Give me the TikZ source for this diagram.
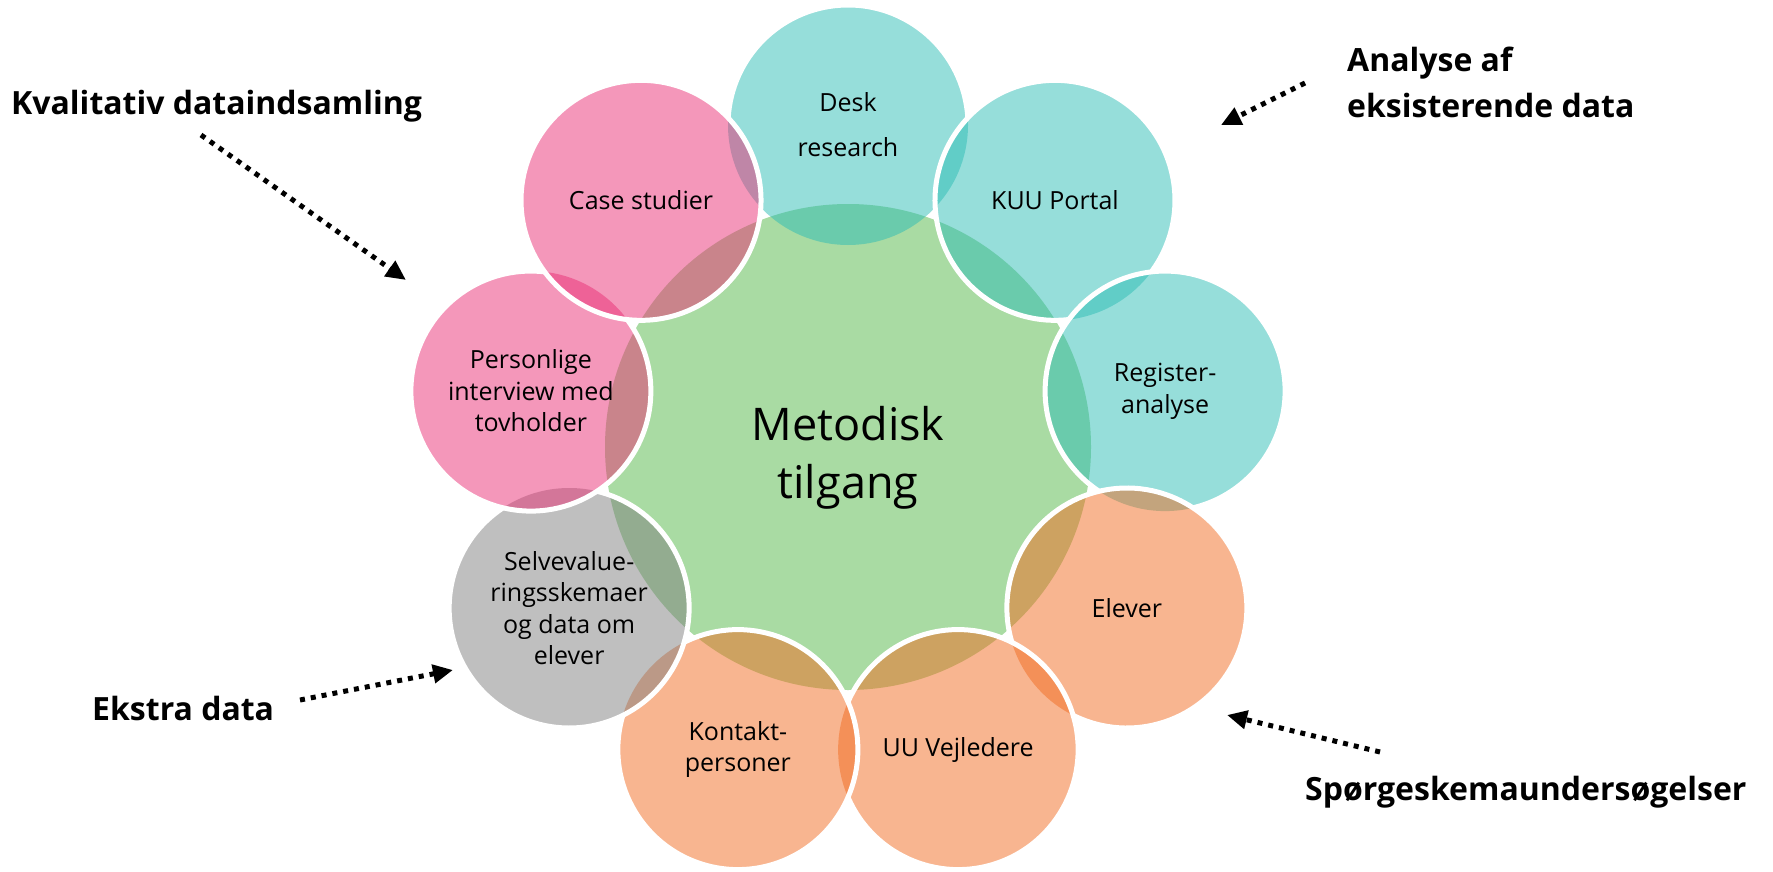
\documentclass[tikz,border=0pt]{standalone}
\usepackage{fontspec}
\setmainfont{Open Sans}
\usetikzlibrary{arrows.meta}
\definecolor{cgreen}{RGB}{169,219,163}
\definecolor{cteal}{RGB}{45,189,181}
\definecolor{cpink}{RGB}{233,47,117}
\definecolor{corange}{RGB}{241,107,33}
\definecolor{cgrey}{RGB}{127,127,127}
\begin{document}
\begin{tikzpicture}[x=1pt,y=1pt,
  bubble/.style={circle, minimum size=240pt, inner sep=0pt, fill opacity=0.5, text opacity=1, align=center, font=\fontsize{25}{31.5}\selectfont},
  rim/.style={white, line width=5pt},
  lbl/.style={anchor=base west, inner sep=0pt, align=left, font=\fontsize{32}{46}\selectfont\bfseries},
  pointer/.style={line width=5pt, dash pattern=on 5pt off 6pt, -{Triangle[length=20pt,width=18pt]}}
]
\useasboundingbox (0,0) rectangle (1773,-872);
% centre
\node[circle, minimum size=486pt, inner sep=0pt, fill=cgreen] (m) at (848,-447) {};
\node[align=center, inner sep=0pt, font=\fontsize{45}{58}\selectfont] (mtxt) at (848,-458) {Metodisk\\tilgang};
% outer circles (clockwise drawing order)
\node[bubble, fill=cteal] (desk) at ([shift={(90:322pt)}]m.center) {Desk\\[13.5pt]research};
\node[bubble, fill=cteal] (kuu) at ([shift={(50:322pt)}]m.center) {KUU Portal};
\node[bubble, fill=cteal] (reg) at ([shift={(10:322pt)}]m.center) {Register-\\analyse};
\node[bubble, fill=corange] (elev) at ([shift={(-30:322pt)}]m.center) {Elever};
\node[bubble, fill=corange] (uu) at ([shift={(-70:322pt)}]m.center) {UU Vejledere};
\node[bubble, fill=corange] (kont) at ([shift={(-110:322pt)}]m.center) {Kontakt-\\personer};
\node[bubble, fill=cgrey] (selv) at ([shift={(-150:322pt)}]m.center) {Selvevalue-\\ringsskemaer\\og data om\\elever};
\node[bubble, fill=cpink] (pers) at ([shift={(170:322pt)}]m.center) {Personlige\\interview med\\tovholder};
\node[bubble, fill=cpink] (case) at ([shift={(130:322pt)}]m.center) {Case studier};
% white rims, hidden where the next circle lies on top
\draw[rim] ([shift={(3.4:120pt)}]desk.center) arc[start angle=3.4, end angle=176.6, radius=120pt];
\foreach \n/\a in {kuu/50, reg/10, elev/-30, uu/-70, kont/-110, selv/-150, pers/170}
  \draw[rim] ([shift={(\a-86.6:120pt)}]\n.center) arc[start angle=\a-86.6, end angle=\a+226.6, radius=120pt];
\draw[rim] (case.center) circle[radius=120pt];
% labels
\node[lbl] (kval) at (11,-115) {Kvalitativ dataindsamling};
\node[lbl] (anal) at (1347,-118) {Analyse af\\eksisterende data};
\node[lbl] (ekst) at (92,-720) {Ekstra data};
\node[lbl] (sporg) at (1305,-800) {Spørgeskemaundersøgelser};
% pointers
\coordinate (k1) at (201,-135); \coordinate (k2) at (406,-280);
\coordinate (a1) at (1305,-83); \coordinate (a2) at (1221,-125);
\coordinate (e1) at (300,-700); \coordinate (e2) at (453,-670);
\coordinate (s1) at (1380,-752); \coordinate (s2) at (1227,-715);
\draw[pointer] (k1) -- (k2);
\draw[pointer] (a1) -- (a2);
\draw[pointer] (e1) -- (e2);
\draw[pointer] (s1) -- (s2);
\end{tikzpicture}
\end{document}
